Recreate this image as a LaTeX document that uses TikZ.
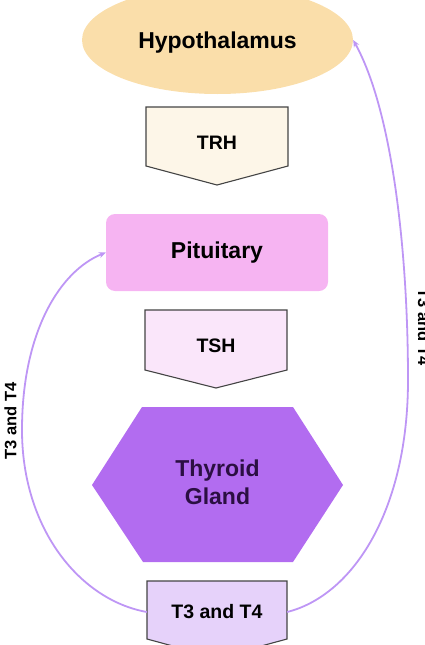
\documentclass[tikz,border=0pt]{standalone}
\usepackage{fontspec}
\setmainfont{Liberation Sans}
\usetikzlibrary{arrows.meta,backgrounds,shapes.geometric}
\definecolor{hypo}{HTML}{FADEAA}
\definecolor{trhfill}{HTML}{FDF6E8}
\definecolor{pitfill}{HTML}{F6B4F2}
\definecolor{tshfill}{HTML}{FAE6FA}
\definecolor{thyfill}{HTML}{B26CF0}
\definecolor{tfill}{HTML}{E6D2FA}
\definecolor{arccol}{HTML}{BE96F5}
\definecolor{thytext}{HTML}{2B0F42}
\definecolor{edge}{HTML}{444444}
\begin{document}
\begin{tikzpicture}[x=1pt,y=-1pt,
  bigtext/.style={font=\fontsize{23}{28}\selectfont\bfseries},
  smalltext/.style={font=\fontsize{19.5}{24}\selectfont\bfseries},
  sidetext/.style={font=\fontsize{16.5}{20}\selectfont\bfseries},
  pent/.style={draw=edge,line width=1.1pt,line join=miter},
  arc/.style={draw=arccol,line width=1.8pt,-{Stealth[length=7pt,width=6pt]}}]
\useasboundingbox (0,0) rectangle (425,645);
% Hypothalamus
\node[ellipse,fill=hypo,minimum width=271pt,minimum height=108pt,inner sep=0pt,bigtext] (hyp) at (217.5,40) {};
\node[bigtext] (hyptext) at (217.5,43) {Hypothalamus};
% TRH
\node[smalltext,minimum width=142pt,inner sep=0pt] (trh) at (217,143) {TRH};
% Pituitary
\node[rectangle,rounded corners=9pt,fill=pitfill,minimum width=222pt,minimum height=77pt,inner sep=0pt,bigtext] (pit) at (217,252.5) {Pituitary};
% TSH
\node[smalltext,minimum width=142pt,inner sep=0pt] (tsh) at (216,346) {TSH};
% Thyroid
\node[bigtext,text=thytext,align=center] (thy) at (217.5,482) {Thyroid\\Gland};
% T3 and T4
\node[smalltext,minimum width=140pt,minimum height=20pt,inner sep=0pt] (t34) at (217,612) {T3 and T4};
\begin{scope}[on background layer]
  \draw[pent,fill=trhfill] (146,107) -- (288,107) -- (288,166) -- (217,185) -- (146,166) -- cycle;
  \draw[pent,fill=tshfill] (145,310) -- (287,310) -- (287,370) -- (216,388) -- (145,370) -- cycle;
  \fill[thyfill] (142,407) -- (293,407) -- (343,485) -- (293,562) -- (143,562) -- (92,485) -- cycle;
  \draw[pent,fill=tfill] (147,581) -- (287,581) -- (287,639) -- (217,658) -- (147,639) -- cycle;
\end{scope}
% feedback arcs
\draw[arc] (t34.west) .. controls (80,600) and (22,529) .. (22,430) .. controls (22,332) and (60,271) .. (pit.west);
\draw[arc] (t34.east) .. controls (354,595) and (408,509) .. (408,380) .. controls (408,250) and (392,110) .. (hyp.east);
% side labels
\node[sidetext,rotate=90] (leftlab) at (10.5,421) {T3 and T4};
\node[sidetext,rotate=-90] (rightlab) at (424,327) {T3 and T4};
\end{tikzpicture}
\end{document}
